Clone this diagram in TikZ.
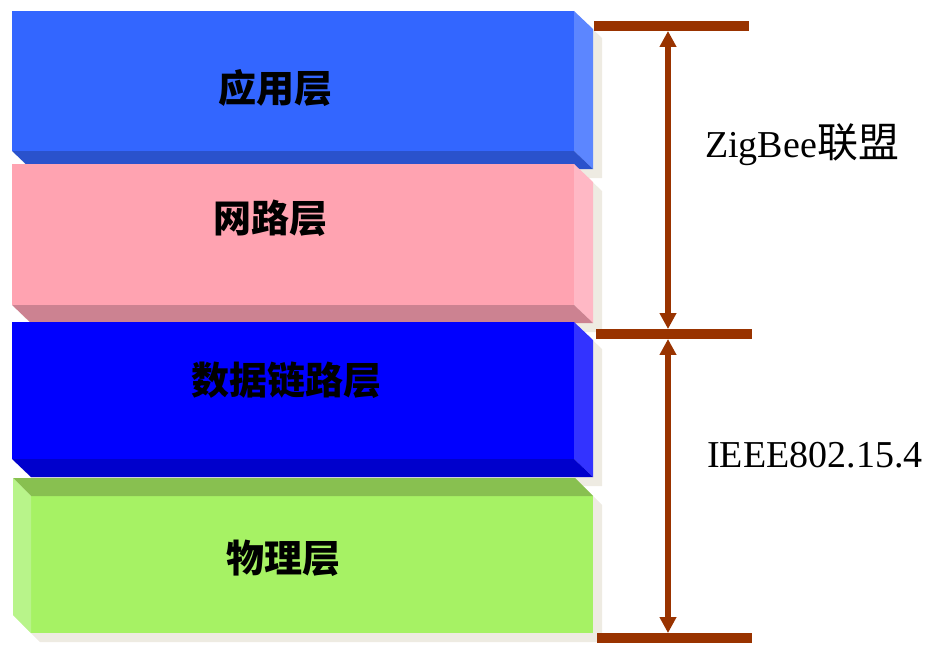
\documentclass[tikz,border=0pt]{standalone}
\usepackage{fontspec}
\setmainfont{Liberation Serif}
\newfontfamily\cjk{Noto Sans CJK SC}
\usetikzlibrary{arrows.meta}
\definecolor{shad}{HTML}{EEEBE2}
\definecolor{bluF}{HTML}{3366FF}
\definecolor{bluS}{HTML}{5C86FF}
\definecolor{bluB}{HTML}{2A52CC}
\definecolor{pnkF}{HTML}{FFA3B1}
\definecolor{pnkS}{HTML}{FFB8C5}
\definecolor{pnkB}{HTML}{CC8291}
\definecolor{dbF}{HTML}{0000FF}
\definecolor{dbS}{HTML}{3333FF}
\definecolor{dbB}{HTML}{0000CC}
\definecolor{grnF}{HTML}{A6F264}
\definecolor{grnT}{HTML}{88C050}
\definecolor{grnL}{HTML}{B8F48A}
\definecolor{brn}{HTML}{993300}
\tikzset{
  layerlbl/.style={font=\cjk\bfseries\fontsize{38}{38}\selectfont, text=black, inner sep=0pt},
  sidelbl/.style={font=\fontsize{38}{38}\selectfont, text=black, inner sep=0pt, anchor=base west},
  barnode/.style={fill=brn, inner sep=0pt, minimum height=9.5pt},
  dimarrow/.style={draw=brn, line width=6pt, {Triangle[length=16pt,width=16pt]}-{Triangle[length=16pt,width=16pt]}},
}
\begin{document}
\begin{tikzpicture}[x=1pt,y=-1pt]
\useasboundingbox (0,0) rectangle (925,658);
% shadows
\begin{scope}[shift={(9,9)}]
\fill[shad] (12,11) -- (574,11) -- (593,29) -- (593,169) -- (31,169) -- (12,151) -- cycle;
\fill[shad] (12,164) -- (574,164) -- (593,182) -- (593,323) -- (31,323) -- (12,305) -- cycle;
\fill[shad] (12,322) -- (574,322) -- (593,340) -- (593,477) -- (31,477) -- (12,459) -- cycle;
\fill[shad] (13,478) -- (575,478) -- (593,496) -- (593,633) -- (31,633) -- (13,615) -- cycle;
\end{scope}
% application layer
\fill[bluF] (12,11) rectangle (574,151);
\fill[bluS] (574,11) -- (593,29) -- (593,169) -- (574,151) -- cycle;
\fill[bluB] (12,151) -- (574,151) -- (593,169) -- (31,169) -- cycle;
% network layer
\fill[pnkF] (12,164) rectangle (574,305);
\fill[pnkS] (574,164) -- (593,182) -- (593,323) -- (574,305) -- cycle;
\fill[pnkB] (12,305) -- (574,305) -- (593,323) -- (31,323) -- cycle;
% data link layer
\fill[dbF] (12,322) rectangle (574,459);
\fill[dbS] (574,322) -- (593,340) -- (593,477) -- (574,459) -- cycle;
\fill[dbB] (12,459) -- (574,459) -- (593,477) -- (31,477) -- cycle;
% physical layer
\fill[grnF] (31,496) rectangle (593,633);
\fill[grnT] (13,478) -- (575,478) -- (593,496) -- (31,496) -- cycle;
\fill[grnL] (13,478) -- (31,496) -- (31,633) -- (13,615) -- cycle;
% labels
\node[layerlbl] (app) at (275,88) {应用层};
\node[layerlbl] (net) at (270,218) {网路层};
\node[layerlbl] (dll) at (286,380) {数据链路层};
\node[layerlbl] (phy) at (283,558) {物理层};
% bars
\node[barnode, minimum width=155pt] (bar1) at (671.5,26) {};
\node[barnode, minimum width=156pt] (bar2) at (674,334) {};
\node[barnode, minimum width=155pt] (bar3) at (674.5,638) {};
\coordinate (ax) at (668,0);
\draw[dimarrow] (bar1.south -| ax) -- (bar2.north -| ax);
\draw[dimarrow] (bar2.south -| ax) -- (bar3.north -| ax);
% side labels
\node[sidelbl] (zig) at (705,157) {ZigBee{\cjk\fontsize{41}{41}\selectfont 联盟}};
\node[sidelbl] (ieee) at (707,467) {IEEE802.15.4};
\end{tikzpicture}
\end{document}
